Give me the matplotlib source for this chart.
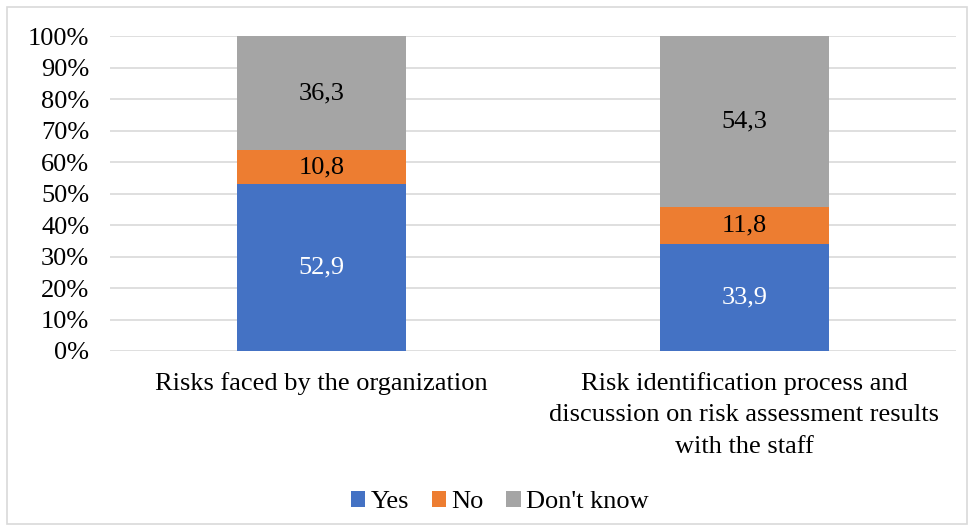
import numpy as np
import matplotlib.pyplot as plt
from matplotlib.patches import Rectangle

plt.rcParams['font.family'] = ['Liberation Serif', 'DejaVu Serif']

categories = ['Risks faced by the organization',
              'Risk identification process and\ndiscussion on risk assessment results\nwith the staff']
yes = [52.9, 33.9]
no = [10.8, 11.8]
dont_know = [36.3, 54.3]

series = [('Yes', yes, '#4472C4', 'white'),
          ('No', no, '#ED7D31', 'black'),
          ("Don't know", dont_know, '#A5A5A5', 'black')]

fs = 19
fig = plt.figure(figsize=(9.74, 5.31), dpi=100)
ax = fig.add_axes([0.1129, 0.339, 0.8686, 0.593])

x = np.arange(len(categories))
bottom = np.zeros(len(categories))
for name, vals, color, tcolor in series:
    vals = np.array(vals)
    ax.bar(x, vals, 0.4, bottom=bottom, color=color, label=name, zorder=2)
    for xi, b, v in zip(x, bottom, vals):
        ax.text(xi, b + v / 2, f'{v:.1f}'.replace('.', ','), ha='center', va='center',
                color=tcolor, fontsize=fs, zorder=3)
    bottom += vals

ax.set_xlim(-0.5, 1.5)
ax.set_ylim(0, 100)
ax.set_yticks(np.arange(0, 101, 10))
ax.set_yticklabels([f'{t}%' for t in range(0, 101, 10)], fontsize=fs)
ax.set_xticks(x)
ax.set_xticklabels(categories, fontsize=fs, linespacing=1.55, va='top')
ax.tick_params(length=0)
ax.tick_params(axis='y', pad=15)
ax.tick_params(axis='x', pad=15)
ax.grid(axis='y', color='#D9D9D9', linewidth=1.2, zorder=0)
for s in ax.spines.values():
    s.set_visible(False)

fig.legend(loc='center', bbox_to_anchor=(0.513, 0.055), ncol=3, frameon=False,
           fontsize=fs, handlelength=0.55, handleheight=0.55, handletextpad=0.2,
           columnspacing=0.85)

# light border round the whole chart
fig.patches.append(Rectangle((7 / 974, 7 / 531), 960 / 974, 517 / 531,
                             transform=fig.transFigure, fill=False,
                             edgecolor='#D9D9D9', linewidth=1.2))

fig.savefig('out.png', dpi=100)
